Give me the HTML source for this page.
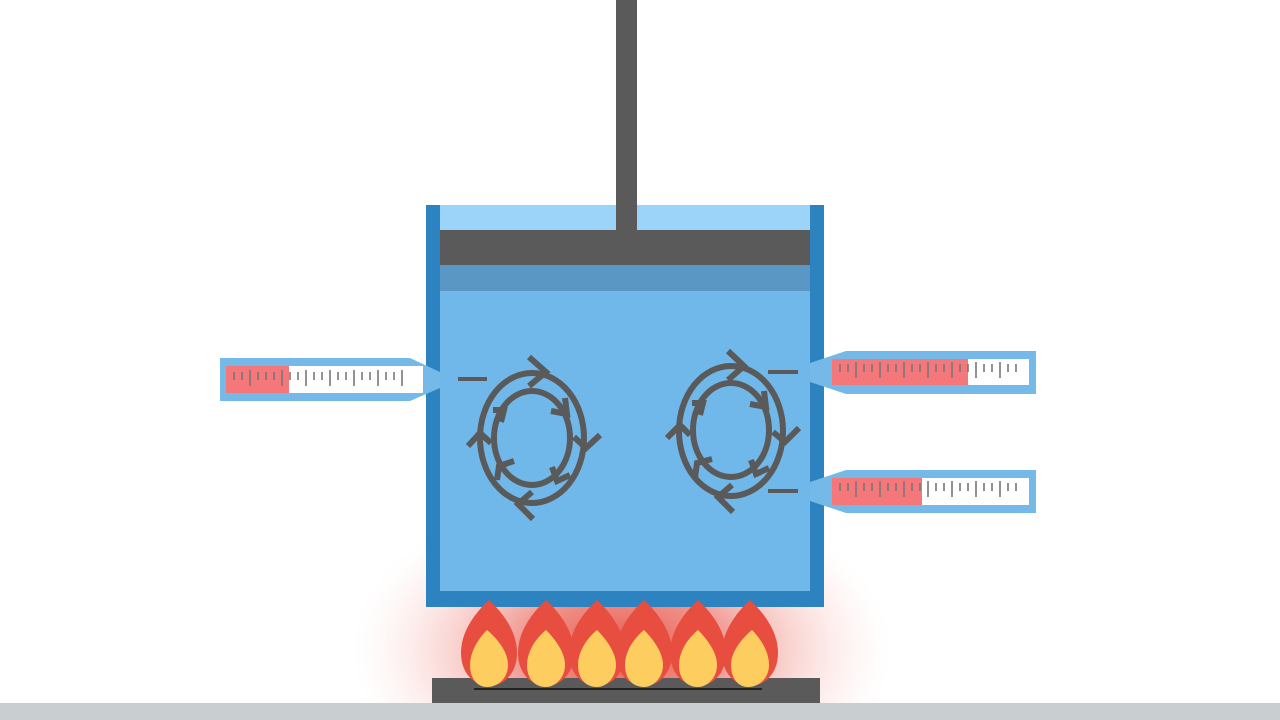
<!DOCTYPE html>
<html><head><meta charset="utf-8"><style>
html,body{margin:0;padding:0;background:#fff;width:1280px;height:720px;overflow:hidden}
svg{display:block}
</style></head><body>
<svg width="1280" height="720" viewBox="0 0 1280 720" xmlns="http://www.w3.org/2000/svg">
<defs>
<radialGradient id="glow" cx="622" cy="650" r="270" gradientUnits="userSpaceOnUse" gradientTransform="translate(622 650) scale(1 0.6) translate(-622 -650)">
<stop offset="0" stop-color="#e8564a" stop-opacity="1"/>
<stop offset="0.35" stop-color="#ec766c" stop-opacity="0.8"/>
<stop offset="0.7" stop-color="#f5b3ad" stop-opacity="0.4"/>
<stop offset="1" stop-color="#fde0dd" stop-opacity="0"/>
</radialGradient>
</defs>
<rect x="340" y="520" width="560" height="190" fill="url(#glow)"/>
<!-- container -->
<rect x="426" y="205" width="398" height="402" fill="#2d83bf"/>
<rect x="440" y="205" width="370" height="386" fill="#70b8ea"/>
<rect x="440" y="205" width="370" height="25" fill="#9cd3f8"/>
<rect x="440" y="265" width="370" height="26" fill="#5a97c4"/>
<rect x="440" y="230" width="370" height="35" fill="#5a5a5a"/>
<rect x="616" y="0" width="21" height="232" fill="#5a5a5a"/>
<!-- thermometers -->
<g>
<path d="M220 358 H410 L440 372 V388 L410 401 H220 Z" fill="#74b9e8"/>
<rect x="226" y="366" width="197" height="27" fill="#fff"/>
<rect x="226" y="366" width="63" height="27" fill="#f4777a"/>
</g>
<g>
<path d="M1036 351 H846 L810 363 V382 L846 394 H1036 Z" fill="#74b9e8"/>
<rect x="832" y="359" width="197" height="26" fill="#fff"/>
<rect x="832" y="359" width="136" height="26" fill="#f4777a"/>
</g>
<g>
<path d="M1036 470 H846 L810 482 V501 L846 513 H1036 Z" fill="#74b9e8"/>
<rect x="832" y="478" width="197" height="27" fill="#fff"/>
<rect x="832" y="478" width="90" height="27" fill="#f4777a"/>
</g>
<g stroke="#777" stroke-width="1.6">
<path d="M234 372v8M242 372v8M250 370v16M258 372v8M266 372v8M274 372v8M282 370v16M290 372v8M298 372v8M306 370v16M314 372v8M322 372v8M330 370v16M338 372v8M346 372v8M354 370v16M362 372v8M370 372v8M378 370v16M386 372v8M394 372v8M402 370v16"/>
<path d="M840 364v8M848 364v8M856 362v16M864 364v8M872 364v8M880 362v16M888 364v8M896 364v8M904 362v16M912 364v8M920 364v8M928 362v16M936 364v8M944 364v8M952 362v16M960 364v8M968 364v8M976 362v16M984 364v8M992 364v8M1000 362v16M1008 364v8M1016 364v8"/>
<path d="M840 483v8M848 483v8M856 481v16M864 483v8M872 483v8M880 481v16M888 483v8M896 483v8M904 481v16M912 483v8M920 483v8M928 481v16M936 483v8M944 483v8M952 481v16M960 483v8M968 483v8M976 481v16M984 483v8M992 483v8M1000 481v16M1008 483v8M1016 483v8"/>
</g>
<g stroke="#5a5a5a" stroke-width="4">
<path d="M458 379H487M768 372H798M768 491H798"/>
</g>
<!-- loops -->
<g fill="none" stroke="#5a5a5a" stroke-width="6" stroke-linecap="butt">
<ellipse cx="532" cy="438" rx="52" ry="65"/>
<ellipse cx="532" cy="438" rx="38" ry="47"/>
<path d="M529 357L546 372L529 386"/>
<path d="M600 435L586 448L574 437"/>
<path d="M533 519L518 504L532 492"/>
<path d="M468 446L480 433L491 443"/>
<path d="M565 398L567 414L551 411"/>
<path d="M552 467L557 481L570 475"/>
<path d="M514 461L499 466L497 480"/>
<path d="M493 410L504 410L501 422"/>
<ellipse cx="731" cy="431" rx="52" ry="65"/>
<ellipse cx="731" cy="430" rx="38" ry="47"/>
<path d="M728 351L744 366L728 380"/>
<path d="M799 428L785 442L773 432"/>
<path d="M733 512L718 497L732 485"/>
<path d="M667 438L680 425L690 435"/>
<path d="M764 391L766 407L750 404"/>
<path d="M751 460L756 474L769 468"/>
<path d="M712 459L697 463L695 478"/>
<path d="M692 403L703 403L700 415"/>
</g>
<!-- stove -->
<rect x="432" y="678" width="388" height="25" fill="#5a5a5a"/>
<rect x="474" y="688" width="288" height="2" fill="#222"/>
<rect x="0" y="703" width="1280" height="17" fill="#c9cfd1"/>
<g>
<g transform="translate(489 0)"><path d="M0 600 C15 614 28 632 28 653 C28 673 15 686 0 686 C-15 686 -28 673 -28 653 C-28 632 -15 614 0 600Z" fill="#e84e3f"/><path d="M-2 630 C10 640 19 653 19 665 C19 678 9 687 -2 687 C-12 687 -19 678 -19 665 C-19 653 -12 640 -2 630Z" fill="#fecd5f"/></g>
<g transform="translate(546 0)"><path d="M0 600 C15 614 28 632 28 653 C28 673 15 686 0 686 C-15 686 -28 673 -28 653 C-28 632 -15 614 0 600Z" fill="#e84e3f"/><path d="M0 630 C10 640 19 653 19 665 C19 678 9 687 0 687 C-12 687 -19 678 -19 665 C-19 653 -12 640 0 630Z" fill="#fecd5f"/></g>
<g transform="translate(597 0)"><path d="M0 600 C15 614 28 632 28 653 C28 673 15 686 0 686 C-15 686 -28 673 -28 653 C-28 632 -15 614 0 600Z" fill="#e84e3f"/><path d="M0 630 C10 640 19 653 19 665 C19 678 9 687 0 687 C-12 687 -19 678 -19 665 C-19 653 -12 640 0 630Z" fill="#fecd5f"/></g>
<g transform="translate(644 0)"><path d="M0 600 C15 614 28 632 28 653 C28 673 15 686 0 686 C-15 686 -28 673 -28 653 C-28 632 -15 614 0 600Z" fill="#e84e3f"/><path d="M0 630 C10 640 19 653 19 665 C19 678 9 687 0 687 C-12 687 -19 678 -19 665 C-19 653 -12 640 0 630Z" fill="#fecd5f"/></g>
<g transform="translate(698 0)"><path d="M0 600 C15 614 28 632 28 653 C28 673 15 686 0 686 C-15 686 -28 673 -28 653 C-28 632 -15 614 0 600Z" fill="#e84e3f"/><path d="M0 630 C10 640 19 653 19 665 C19 678 9 687 0 687 C-12 687 -19 678 -19 665 C-19 653 -12 640 0 630Z" fill="#fecd5f"/></g>
<g transform="translate(750 0)"><path d="M0 600 C15 614 28 632 28 653 C28 673 15 686 0 686 C-15 686 -28 673 -28 653 C-28 632 -15 614 0 600Z" fill="#e84e3f"/><path d="M2 630 C12 640 19 653 19 665 C19 678 9 687 -2 687 C-12 687 -19 678 -19 665 C-19 653 -10 640 2 630Z" fill="#fecd5f"/></g>
</g>
</svg>
</body></html>
